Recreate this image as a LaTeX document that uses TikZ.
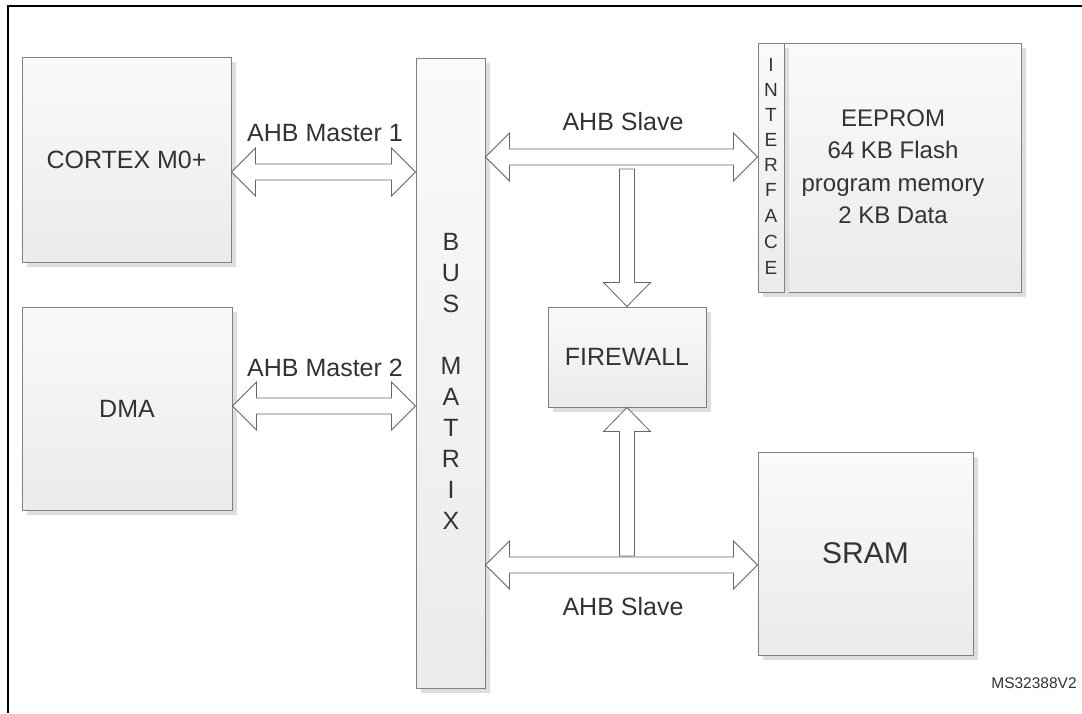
\documentclass[tikz,border=0pt]{standalone}
\usepackage{fontspec}
\setmainfont{Liberation Sans}
\usetikzlibrary{calc,shadows}
\tikzset{
  blk/.style={draw=black!50, line width=1pt, top color=black!2, bottom color=black!8,
    drop shadow={shadow xshift=5pt,shadow yshift=-5pt,fill=black!13,opacity=1},
    inner sep=0pt, font=\fontsize{25}{32.5}\selectfont, text=black!80, align=center},
  fat/.style={draw=black!60, line width=0.8pt, fill=white, line join=miter},
  lbl/.style={font=\fontsize{25}{30}\selectfont, text=black!80, inner sep=0pt},
  ilbl/.style={font=\fontsize{19}{22}\selectfont, text=black!80, inner sep=0pt},
  frame/.style={draw=black, line width=2pt},
}
\newcommand\fatH[2]{%
  \draw[fat] let \p1=#1, \p2=#2 in
   (\x1,\y1) -- (\x1+24pt,\y1+24pt) -- (\x1+24pt,\y1+8pt) -- (\x2-24pt,\y1+8pt)
   -- (\x2-24pt,\y1+24pt) -- (\x2,\y1) -- (\x2-24pt,\y1-24pt) -- (\x2-24pt,\y1-8pt)
   -- (\x1+24pt,\y1-8pt) -- (\x1+24pt,\y1-24pt) -- cycle;}
\newcommand\fatV[2]{%
  \draw[fat] let \p1=#1, \p2=#2, \n1={sign(\y2-\y1)} in
   (\x1,\y1) -- (\x1+23.5pt,\y1+\n1*24pt) -- (\x1+7.5pt,\y1+\n1*24pt) -- (\x1+7.5pt,\y2)
   -- (\x1-7.5pt,\y2) -- (\x1-7.5pt,\y1+\n1*24pt) -- (\x1-23.5pt,\y1+\n1*24pt) -- cycle;}
\begin{document}
\begin{tikzpicture}[x=1pt,y=-1pt]
\useasboundingbox (0,0) rectangle (1082,713);
\fill[white] (0,0) rectangle (1082,713);
% frame
\coordinate (fTL) at (8,6);
\coordinate (fTR) at (1082,6);
\coordinate (fBL) at (8,713);
\draw[frame] (fTR) -- (fTL) -- (fBL);
% blocks
\node[blk, minimum width=209pt, minimum height=205pt] (cortex) at (126.5,159.5) {CORTEX M0+};
\node[blk, minimum width=210pt, minimum height=203pt] (dma) at (127,408.5) {DMA};
\node[blk, minimum width=69pt, minimum height=630pt] (bus) at (450.5,373) {};
\foreach \l/\yy [count=\i] in {B/242,U/273,S/304,M/366,A/397,T/428,R/459,I/490,X/521}
  \node[lbl] (bus\i) at (451,\yy) {\l};
\node[blk, minimum width=237pt, minimum height=249pt] (eeprom) at (902.5,167.5) {};
\node[blk, minimum width=26pt, minimum height=249pt] (intf) at (771,167.5) {};
\node[font=\fontsize{24}{32.5}\selectfont, text=black!80, align=center, inner sep=0pt] (eetext) at (893,166.5)
  {EEPROM\\64 KB Flash\\program memory\\2 KB Data};
\foreach \l/\yy [count=\i] in {I/65,N/90,T/115,E/140,R/165,F/190,A/216,C/242,E/268}
  \node[ilbl] (intf\i) at (771,\yy) {\l};
\node[blk, minimum width=158pt, minimum height=100pt] (fw) at (627,357) {FIREWALL};
\node[blk, minimum width=215pt, minimum height=203pt, font=\fontsize{30}{34}\selectfont] (sram) at (865.5,553.5) {SRAM};
% arrow levels
\coordinate (m1) at (0,172);
\coordinate (m2) at (0,406);
\coordinate (s1) at (0,157);
\coordinate (s2) at (0,565);
\coordinate (vt) at (0,169);
\coordinate (vb) at (0,556);
\fatH{(cortex.east |- m1)}{(bus.west |- m1)}
\fatH{(dma.east |- m2)}{(bus.west |- m2)}
\fatH{(bus.east |- s1)}{(intf.west |- s1)}
\fatH{(bus.east |- s2)}{(sram.west |- s2)}
\fatV{(fw.north)}{(fw.north |- vt)}
\fatV{(fw.south)}{(fw.south |- vb)}
% labels
\node[lbl] (lm1) at (325,133) {AHB Master 1};
\node[lbl] (lm2) at (325,368) {AHB Master 2};
\node[lbl] (ls1) at (623,122) {AHB Slave};
\node[lbl] (ls2) at (623,607) {AHB Slave};
\node[font=\fontsize{15.5}{18}\selectfont, text=black!80, inner sep=0pt] (id) at (1034,683) {MS32388V2};
\end{tikzpicture}
\end{document}
